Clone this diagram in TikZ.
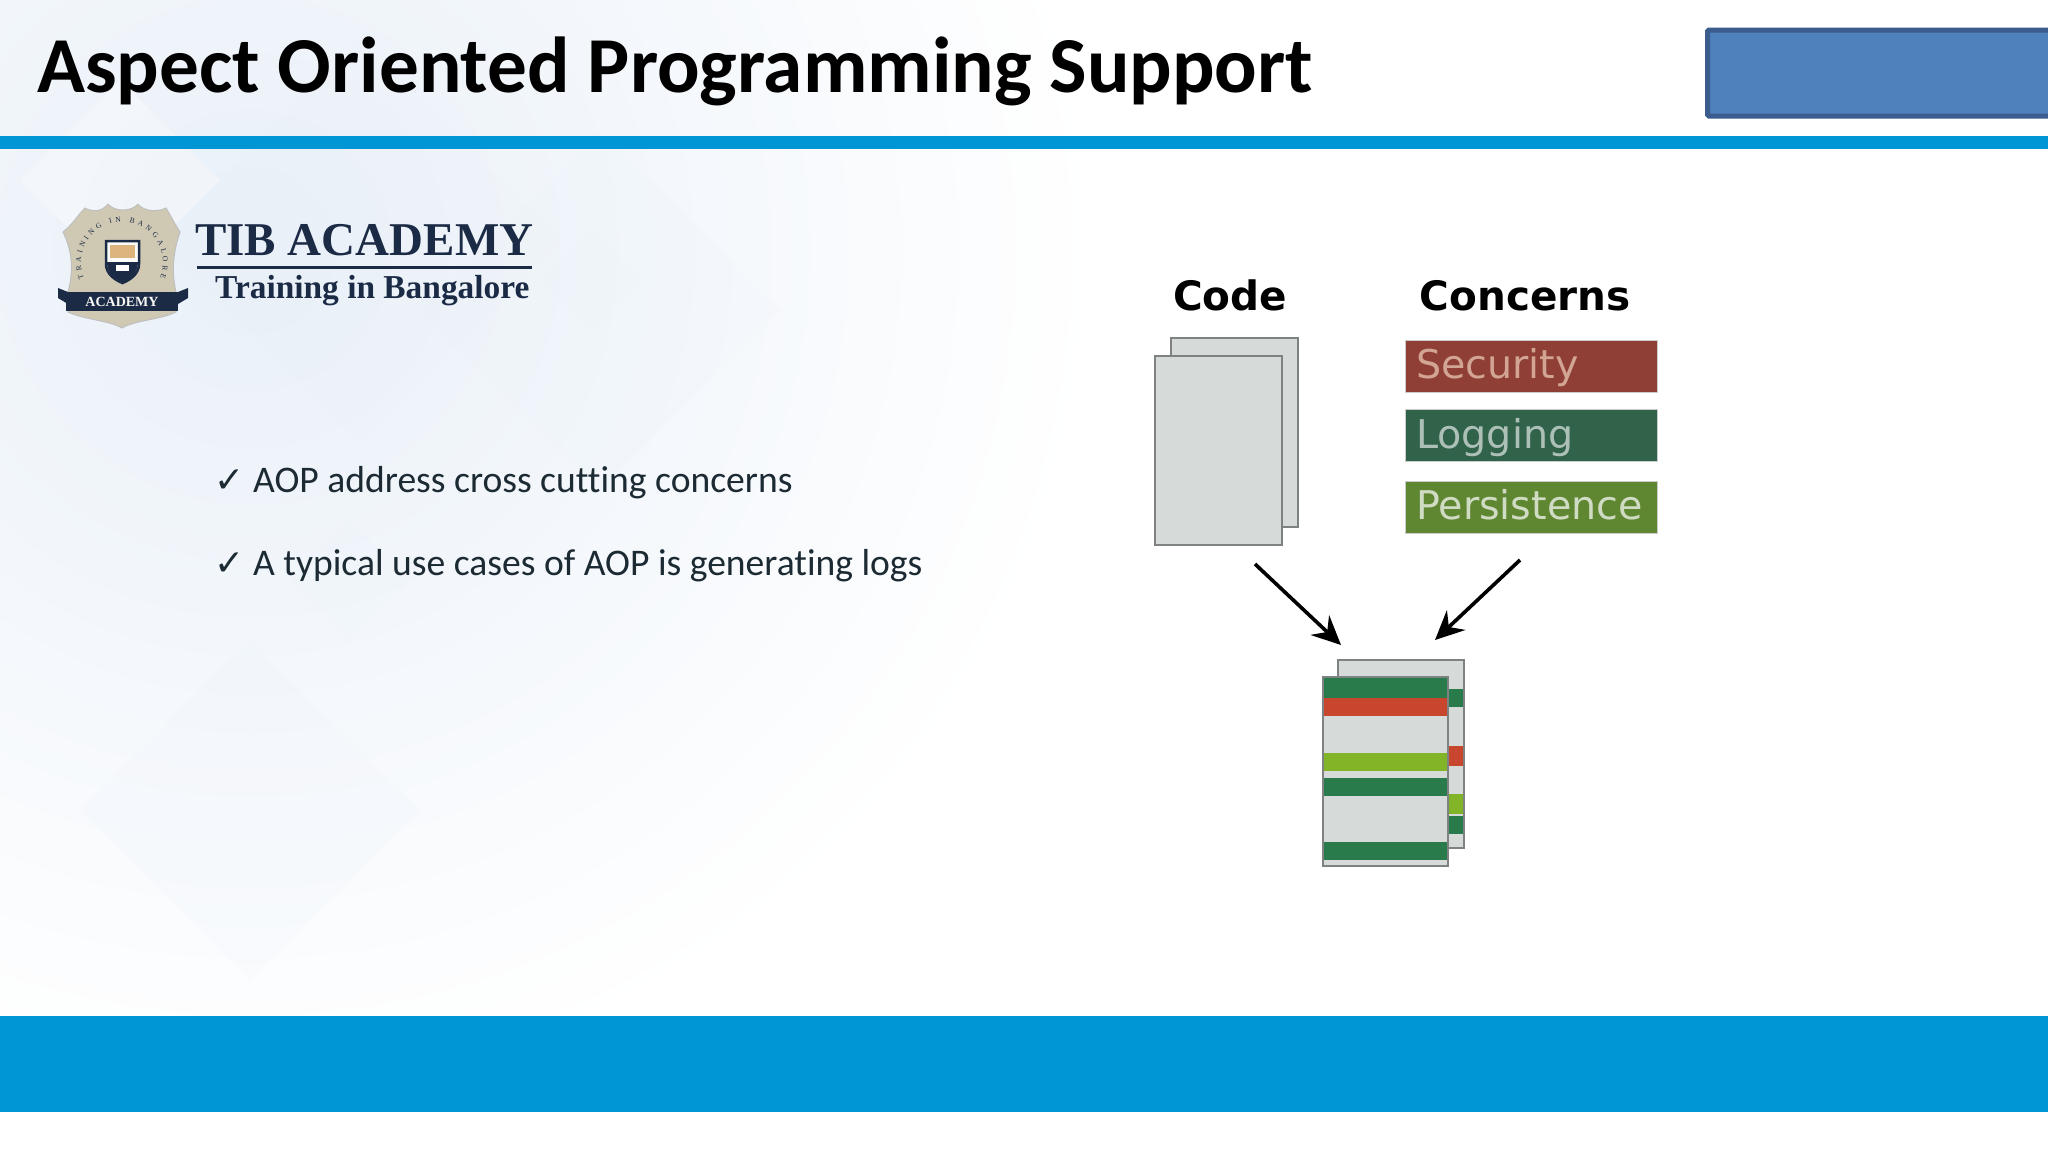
\documentclass[tikz,border=0pt]{standalone}
\usepackage{fontspec}
\setmainfont[Ligatures=NoCommon]{Carlito}
\newfontfamily\djv{DejaVu Sans}
\newfontfamily\lserif{Liberation Serif}
\usetikzlibrary{arrows.meta,decorations.text}
\definecolor{barblue}{HTML}{0096D6}
\definecolor{boxfill}{HTML}{4F81BD}
\definecolor{boxline}{HTML}{3B5C8C}
\definecolor{pagefill}{HTML}{D6DBD9}
\definecolor{pageline}{HTML}{7F8282}
\definecolor{secred}{HTML}{8F3F35}
\definecolor{loggreen}{HTML}{31624A}
\definecolor{pergreen}{HTML}{5F8732}
\definecolor{stgreen}{HTML}{2A7B4C}
\definecolor{stred}{HTML}{C8452E}
\definecolor{stlime}{HTML}{82B428}
\definecolor{navy}{HTML}{1B2A45}
\definecolor{tan}{HTML}{CFC9B4}
\definecolor{paleblue}{HTML}{E9F0F8}
\definecolor{inktext}{HTML}{1C2A33}
\tikzset{
  x=1pt,y=-1pt,
  sheet/.style={draw=pageline,line width=2pt,fill=pagefill,anchor=north west,inner sep=0pt,outer sep=0pt},
  concern/.style={anchor=north west,inner sep=0pt,outer sep=0pt,minimum width=252pt,minimum height=52pt,draw=white!80!black,line width=1pt},
  concernlabel/.style={anchor=base west,inner sep=0pt,font=\djv\fontsize{39.6}{40}\selectfont},
  heading/.style={anchor=base,inner sep=0pt,font=\djv\bfseries\fontsize{40.5}{42}\selectfont,text=black},
  bullettext/.style={anchor=base west,inner sep=0pt,text=inktext,font=\fontsize{37.6}{40}\selectfont},
  tick/.style={anchor=base west,inner sep=0pt,text=inktext,font=\djv\fontsize{36}{38}\selectfont},
  flow/.style={line width=3.6pt,black,-{Stealth[length=29pt,width=27pt,inset=10pt]}},
  diamondpatch/.style={fill=paleblue,opacity=.14,draw=none},
}
\begin{document}
\begin{tikzpicture}
\useasboundingbox (0,0) rectangle (2048,1152);
\fill[white] (0,0) rectangle (2048,1152);
% soft background
\begin{scope}
\clip (0,0) rectangle (2048,1016);
\shade[inner color=paleblue,outer color=white] (250,250) circle (850);
\fill[diamondpatch] (360,40) -- (560,240) -- (360,440) -- (160,240) -- cycle;
\fill[diamondpatch] (600,130) -- (780,310) -- (600,490) -- (420,310) -- cycle;
\fill[diamondpatch] (350,520) -- (410,580) -- (350,640) -- (290,580) -- cycle;
\fill[diamondpatch] (250,640) -- (420,810) -- (250,980) -- (80,810) -- cycle;
\fill[diamondpatch] (590,230) -- (640,280) -- (590,330) -- (540,280) -- cycle;
\fill[white,opacity=.3] (120,80) -- (220,180) -- (120,280) -- (20,180) -- cycle;
\end{scope}
% bands
\fill[barblue] (0,136) rectangle (2048,149);
\fill[barblue] (0,1016) rectangle (2048,1112);
% title
\node[anchor=base west,inner sep=0pt,text=black,font=\bfseries\fontsize{79.3}{82}\selectfont] (title) at (37,92) {Aspect Oriented Programming Support};
% blue box
\node[anchor=north west,inner sep=0pt,outer sep=0pt,draw=boxline,line width=5pt,fill=boxfill,rounded corners=1.5pt,minimum width=360pt,minimum height=86pt] (bluebox) at (1707.5,30) {};
% logo
\fill[tan,draw=white!75!black,line width=1pt] (63,232) .. controls (72,225) and (78,215) .. (85,208) .. controls (92,212) and (102,212) .. (108,204) .. controls (114,212) and (132,212) .. (138,204) .. controls (144,212) and (158,212) .. (166,208) .. controls (172,218) and (176,226) .. (180,232) .. controls (172,255) and (172,275) .. (176,292) -- (176,312) .. controls (160,320) and (135,320) .. (122,328) .. controls (108,320) and (85,320) .. (68,312) -- (68,292) .. controls (74,270) and (72,250) .. (63,232) -- cycle;
\path[decorate,decoration={text along path,text align={fit to path},text={|\lserif\fontsize{7.5}{8}\selectfont\color{navy}|TRAINING IN BANGALORE}}] (84,278) arc[start angle=158,end angle=382,radius=41];
\fill[white!92!tan,draw=navy,line width=2.5pt] (106,241) -- (139,241) -- (139,264) .. controls (139,274) and (130,280) .. (122.5,283) .. controls (115,280) and (106,274) .. (106,264) -- cycle;
\fill[tan!70!orange] (110,245) rectangle (135,258);
\fill[navy] (107,262) -- (138,262) .. controls (138,274) and (130,279) .. (122.5,282) .. controls (115,279) and (107,274) .. (107,262) -- cycle;
\fill[white] (116,265) rectangle (129,271);
\fill[navy] (58,288) -- (68,292) -- (68,304) -- (58,298) -- cycle;
\fill[navy] (188,288) -- (178,292) -- (178,304) -- (188,298) -- cycle;
\node[anchor=north west,inner sep=0pt,outer sep=0pt,fill=navy,minimum width=112pt,minimum height=19pt,text=white!85!tan,font=\lserif\bfseries\fontsize{14}{14}\selectfont] (banner) at (66,292) {ACADEMY};
\node[anchor=base west,inner sep=0pt,text=navy,font=\lserif\bfseries\fontsize{47}{50}\selectfont] (logoname) at (195,255) {TIB ACADEMY};
\coordinate (rulea) at (197,267);
\coordinate (ruleb) at (532,267);
\draw[navy,line width=3pt] (rulea) -- (ruleb);
\node[anchor=base west,inner sep=0pt,text=navy,font=\lserif\bfseries\fontsize{33.4}{35}\selectfont] (logotag) at (215,298) {Training in Bangalore};
% bullets
\node[tick] (tickone) at (214,492) {✓};
\node[bullettext] (bulletone) at (253,492) {AOP address cross cutting concerns};
\node[tick] (ticktwo) at (214,575) {✓};
\node[bullettext] (bullettwo) at (253,575) {A typical use cases of AOP is generating logs};
% headings
\node[heading] (codehead) at (1230,310) {Code};
\node[heading] (concernhead) at (1525,310) {Concerns};
% code pages
\node[sheet,minimum width=127pt,minimum height=189pt] (codeback) at (1171,338) {};
\node[sheet,minimum width=127pt,minimum height=189pt] (codefront) at (1155,356) {};
% concerns
\node[concern,fill=secred] (security) at (1405,340) {};
\node[concernlabel,text=white!55!secred!90!orange] (securitytext) at (1416,378) {Security};
\node[concern,fill=loggreen] (logging) at (1405,409) {};
\node[concernlabel,text=white!60!loggreen] (loggingtext) at (1416,448) {Logging};
\node[concern,fill=pergreen] (persistence) at (1405,481) {};
\node[concernlabel,text=white!70!pergreen] (persistencetext) at (1416,519) {Persistence};
% woven pages
\node[sheet,minimum width=126pt,minimum height=188pt] (wovenback) at (1338,660) {};
\fill[stgreen] (1449,689) rectangle (1463,707);
\fill[stred] (1449,746) rectangle (1463,766);
\fill[stlime] (1449,794) rectangle (1463,814);
\fill[stgreen] (1449,816) rectangle (1463,834);
\node[sheet,minimum width=125pt,minimum height=189pt] (wovenfront) at (1323,677) {};
\fill[stgreen] (1324,678) rectangle (1447,698);
\fill[stred] (1324,698) rectangle (1447,716);
\fill[stlime] (1324,753) rectangle (1447,771);
\fill[stgreen] (1324,778) rectangle (1447,796);
\fill[stgreen] (1324,842) rectangle (1447,860);
% arrows
\coordinate (arrowAstart) at (1255,564);
\coordinate (arrowAend) at (1341,645);
\coordinate (arrowBstart) at (1520,560);
\coordinate (arrowBend) at (1435,640);
\draw[flow] (arrowAstart) -- (arrowAend);
\draw[flow] (arrowBstart) -- (arrowBend);
\end{tikzpicture}
\end{document}
